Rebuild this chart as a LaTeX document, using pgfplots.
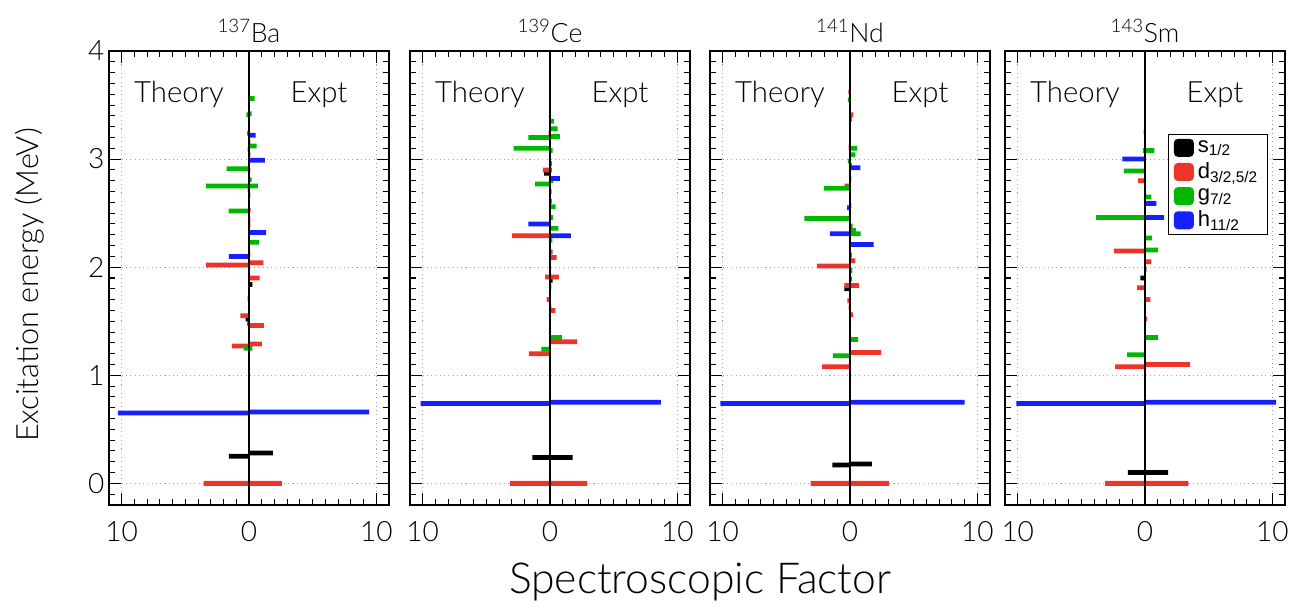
\documentclass[border=0pt]{standalone}
\usepackage{pgfplots}
\pgfplotsset{compat=1.18}
\usepackage{fontspec}
\setmainfont{Lato Light}
\newfontfamily\legfont{Liberation Sans}

\definecolor{cS}{RGB}{0,0,0}
\definecolor{cD}{RGB}{236,52,40}
\definecolor{cG}{RGB}{0,184,0}
\definecolor{cH}{RGB}{22,32,255}

\pgfplotsset{
  panel/.style={
    scale only axis, width=210pt, height=340.5pt,
    anchor=south west,
    xmin=-11, xmax=11, ymin=-0.2, ymax=4,
    xtick={-10,0,10}, xticklabels={10,0,10},
    minor xtick={-11,-10,...,11},
    ytick={0,1,2,3,4},
    minor ytick={-0.1,0,...,4},
    tick align=inside,
    major tick length=9pt, minor tick length=4.5pt,
    every tick/.style={black, line width=0.8pt},
    axis line style={black, line width=1.1pt},
    xmajorgrids, ymajorgrids,
    grid style={gray!70, line width=0.8pt, dash pattern=on 0.8pt off 2.4pt},
    /pgf/number format/assume math mode=true,
    tick label style={font=\fontsize{21}{23}\selectfont},
    xticklabel style={yshift=-9pt},
    title style={font=\fontsize{20}{22}\selectfont, yshift=-3pt},
    clip=false,
  },
  bars/.style={xbar, bar width=0.044, bar shift=0pt, draw=none, fill=#1},
  zero line/.style={black, line width=1pt, forget plot},
}
\newcommand{\sides}{%
  \node[font=\fontsize{22}{24}\selectfont] at (axis cs:-5.5,3.6) {Theory};
  \node[font=\fontsize{22}{24}\selectfont] at (axis cs:5.5,3.6) {Expt};
}

\begin{document}
\begin{tikzpicture}
\useasboundingbox (0,0) rectangle (975.75pt,456.75pt);

% ---------------- 137Ba ----------------
\begin{axis}[panel, at={(81.75pt,78pt)}, title={\textsuperscript{137}Ba}]
\addplot[bars=cS] coordinates {(-1.59,0.25) (-0.26,1.52) (1.87,0.28) (0.26,1.84)};
\addplot[bars=cD] coordinates {(-3.57,0) (-1.35,1.27) (-0.16,1.48) (-0.68,1.55) (-0.1,1.71)
  (-3.39,2.02) (-0.1,2.72) (-0.1,2.90) (-0.1,3.09)
  (2.58,0) (1.02,1.29) (1.17,1.46) (0.83,1.90) (1.12,2.04) (0.1,2.12) (0.1,2.39)
  (0.1,2.44) (0.12,2.53) (0.1,2.67) (0.1,2.90) (0.1,3.04) (0.1,3.16)};
\addplot[bars=cG] coordinates {(-0.42,1.25) (-1.6,2.52) (-3.39,2.75) (-1.75,2.91) (-0.15,3.24) (-0.2,3.41)
  (0.26,1.25) (0.8,2.23) (0.7,2.75) (0.2,2.81) (0.6,3.12) (0.2,3.42) (0.44,3.56)};
\addplot[bars=cH] coordinates {(-10.3,0.65) (-1.59,2.10) (9.43,0.66) (1.35,2.32) (1.25,2.99) (0.52,3.22)};
\addplot[zero line] coordinates {(0,-0.2) (0,4)};
\sides
\end{axis}

% ---------------- 139Ce ----------------
\begin{axis}[panel, at={(307.5pt,78pt)}, yticklabels={}, title={\textsuperscript{139}Ce}]
\addplot[bars=cS] coordinates {(-1.38,0.24) (-0.47,2.87) (1.77,0.24) (0.2,1.88)};
\addplot[bars=cD] coordinates {(-3.15,0) (-1.67,1.20) (-0.26,1.70) (-0.39,1.91) (-2.97,2.29) (-0.57,2.90) (-0.1,3.24)
  (2.94,0) (2.14,1.31) (0.42,1.60) (0.1,1.63) (0.1,1.82) (0.7,1.91) (0.52,2.09) (0.2,2.14) (0.15,2.90) (0.15,2.96)};
\addplot[bars=cG] coordinates {(-0.68,1.24) (-1.17,2.77) (-2.86,3.10) (-1.69,3.20)
  (0.94,1.35) (0.18,2.25) (0.65,2.36) (0.23,2.46) (0.44,2.56) (0.15,2.61) (0.13,2.70) (0.26,2.80)
  (0.2,3.08) (0.78,3.21) (0.6,3.28) (0.31,3.35)};
\addplot[bars=cH] coordinates {(-10.16,0.74) (-1.69,2.40) (8.72,0.75) (1.64,2.29) (0.78,2.82)};
\addplot[zero line] coordinates {(0,-0.2) (0,4)};
\sides
\end{axis}

% ---------------- 141Nd ----------------
\begin{axis}[panel, at={(532.5pt,78pt)}, yticklabels={}, title={\textsuperscript{141}Nd}]
\addplot[bars=cS] coordinates {(-1.38,0.17) (-0.44,1.80) (1.72,0.18) (0.13,1.89)};
\addplot[bars=cD] coordinates {(-3.1,0) (-2.19,1.08) (-0.1,1.63) (-0.21,1.69) (-0.44,1.83) (-2.6,2.01)
  (-0.42,2.75) (-0.1,3.11) (-0.13,3.62)
  (3.07,0) (2.45,1.21) (0.23,1.56) (0.7,1.83) (0.42,2.06) (0.15,2.11) (0.1,2.57) (0.1,2.82)
  (0.15,2.94) (0.15,3.37) (0.26,3.41)};
\addplot[bars=cG] coordinates {(-1.35,1.18) (-3.59,2.45) (-2.06,2.73) (-0.16,2.98) (-0.16,3.55)
  (0.63,1.33) (0.18,1.97) (0.83,2.31) (0.47,2.34) (0.2,2.38) (0.42,3.04) (0.55,3.10)};
\addplot[bars=cH] coordinates {(-10.18,0.74) (-1.59,2.31) (-0.23,2.55) (9.01,0.75) (1.85,2.21) (0.81,2.92)};
\addplot[zero line] coordinates {(0,-0.2) (0,4)};
\sides
\end{axis}

% ---------------- 143Sm ----------------
\begin{axis}[panel, at={(753.75pt,78pt)}, yticklabels={}, title={\textsuperscript{143}Sm},
  legend style={at={(0.582,0.817)}, anchor=north west, draw=black, line width=0.8pt,
    font=\legfont\fontsize{16.5}{18}\selectfont, row sep=2.2pt,
    inner xsep=4pt, inner ysep=2.5pt,
    nodes={inner xsep=3pt}},
  legend cell align=left,
  legend image code/.code={\fill[#1, rounded corners=3pt] (0pt,-7pt) rectangle (15pt,6.5pt);}]
\addplot[bars=cS] coordinates {(-1.35,0.10) (-0.36,1.90) (1.82,0.10) (0.1,1.98)};
\addplot[bars=cD] coordinates {(-3.13,0) (-2.34,1.08) (-0.63,1.81) (-2.45,2.15) (-0.57,2.80) (-0.1,3.25)
  (3.41,0) (3.54,1.10) (0.16,1.52) (0.42,1.70) (0.49,2.05)};
\addplot[bars=cG] coordinates {(-1.41,1.19) (-3.85,2.46) (-1.67,2.89) (-0.16,3.08)
  (1.02,1.35) (1.02,2.16) (0.55,2.27) (0.49,2.65) (0.73,3.08)};
\addplot[bars=cH] coordinates {(-10.1,0.74) (-1.77,3.00) (10.3,0.75) (1.51,2.46) (0.89,2.59)};
\addplot[zero line] coordinates {(0,-0.2) (0,4)};
\legend{s\textsubscript{1/2}, d\textsubscript{3/2,5/2}, g\textsubscript{7/2}, h\textsubscript{11/2}}
\sides
\end{axis}

% shared axis titles
\node[rotate=90, font=\fontsize{23}{25}\selectfont] at (22.5pt,243pt) {Excitation energy (MeV)};
\node[font=\fontsize{32}{36}\selectfont] at (525pt,20.25pt) {Spectroscopic Factor};
\end{tikzpicture}
\end{document}
